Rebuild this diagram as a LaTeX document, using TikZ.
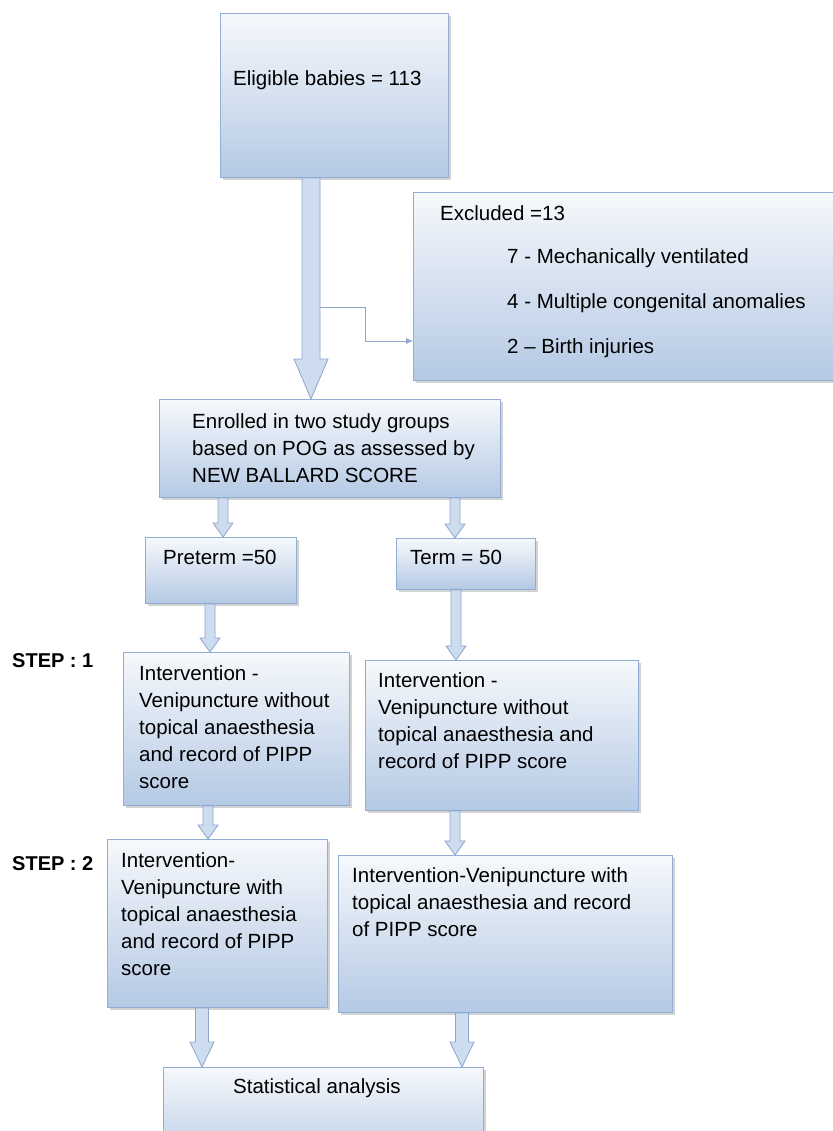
\documentclass[tikz,border=0pt]{standalone}
\usepackage{fontspec}
\setmainfont{Liberation Sans}
\usetikzlibrary{calc,shadows,arrows.meta}

\definecolor{boxline}{RGB}{146,174,212}
\definecolor{boxblue}{RGB}{180,201,228}
\definecolor{arrowfill}{RGB}{206,220,239}
\definecolor{arrowline}{RGB}{140,166,206}

\tikzset{
  box/.style={draw=boxline, line width=1pt, top color=boxblue!12, bottom color=boxblue,
    drop shadow={shadow xshift=2pt, shadow yshift=-2.5pt, opacity=0.35},
    anchor=north west, inner sep=0pt},
  txt/.style={anchor=north west, inner sep=0pt, align=left,
    font=\fontsize{20.5}{27}\selectfont},
  bigarrow/.style={draw=arrowline, fill=arrowfill, line width=0.8pt},
  thinarrow/.style={draw=arrowline, line width=0.8pt, -{Latex[length=7pt,width=6pt]}},
  steplabel/.style={anchor=west, inner sep=0pt, font=\fontsize{20}{24}\selectfont\bfseries}
}

% block arrow: x, from node, to node, shaft width, head width, head length
\newcommand{\blockarrow}[6]{%
  \coordinate (ba-x) at (#1,0);
  \path (#2.south -| ba-x) coordinate (ba-top) (#3.north -| ba-x) coordinate (ba-tip);
  \draw[bigarrow] ($(ba-top)+(-#4/2,0)$) -- ($(ba-tip)+(-#4/2,-#6)$)
    -- ($(ba-tip)+(-#5/2,-#6)$) -- (ba-tip) -- ($(ba-tip)+(#5/2,-#6)$)
    -- ($(ba-tip)+(#4/2,-#6)$) -- ($(ba-top)+(#4/2,0)$) -- cycle;
}

\begin{document}
\begin{tikzpicture}[x=1pt, y=-1pt]
  \useasboundingbox (0,0) rectangle (832,1131);
  \fill[white] (0,0) rectangle (832,1131);

  % boxes
  \node[box, minimum width=228pt, minimum height=164pt] (elig) at (220,13) {};
  \node[box, minimum width=430pt, minimum height=188pt] (excl) at (413,192) {};
  \node[box, minimum width=341pt, minimum height=98pt] (enrol) at (159,399) {};
  \node[box, minimum width=151pt, minimum height=66pt] (pre) at (145,537) {};
  \node[box, minimum width=139pt, minimum height=51pt] (term) at (396,538) {};
  \node[box, minimum width=226pt, minimum height=153pt] (preA) at (123,652) {};
  \node[box, minimum width=273pt, minimum height=150pt] (termA) at (365,660) {};
  \node[box, minimum width=220pt, minimum height=168pt] (preB) at (107,839) {};
  \node[box, minimum width=334pt, minimum height=157pt] (termB) at (338,855) {};
  \node[box, minimum width=320pt, minimum height=100pt] (stat) at (163,1067) {};

  % texts
  \node[txt] (eligtxt) at (233,70) {Eligible babies = 113};
  \node[txt] (excltxt) at (440,205) {Excluded =13};
  \node[txt] (excl1) at (507,248) {7 - Mechanically ventilated};
  \node[txt] (excl2) at (507,293) {4 - Multiple congenital anomalies};
  \node[txt] (excl3) at (507,338) {2 -- Birth injuries};
  \node[txt] (enroltxt) at (192,413) {Enrolled in two study groups\\based on POG as assessed by\\NEW BALLARD SCORE};
  \node[txt] (pretxt) at (163,550) {Preterm =50};
  \node[txt] (termtxt) at (410,550) {Term = 50};
  \node[txt] (preAtxt) at (139,665) {Intervention -\\Venipuncture without\\topical anaesthesia\\and record of PIPP\\score};
  \node[txt] (termAtxt) at (378,672) {Intervention -\\Venipuncture without\\topical anaesthesia and\\record of PIPP score};
  \node[txt] (preBtxt) at (121,852) {Intervention-\\Venipuncture with\\topical anaesthesia\\and record of PIPP\\score};
  \node[txt] (termBtxt) at (352,867) {Intervention-Venipuncture with\\topical anaesthesia and record\\of PIPP score};
  \node[txt] (stattxt) at (233,1078) {Statistical analysis};

  \node[steplabel] (step1) at (12,661) {STEP : 1};
  \node[steplabel] (step2) at (12,864) {STEP : 2};

  % arrows
  \blockarrow{311}{elig}{enrol}{18}{34}{40}
  \coordinate (brk) at (320,307);
  \draw[thinarrow] (brk) -- ++(45,0) |- ($(excl.south west)+(0,-40)$);
  \blockarrow{223}{enrol}{pre}{10}{20}{14}
  \blockarrow{455}{enrol}{term}{10}{20}{14}
  \blockarrow{210}{pre}{preA}{10}{20}{14}
  \blockarrow{456}{term}{termA}{10}{20}{14}
  \blockarrow{208}{preA}{preB}{10}{20}{14}
  \blockarrow{455}{termA}{termB}{10}{20}{14}
  \blockarrow{202}{preB}{stat}{13}{24}{25}
  \blockarrow{462}{termB}{stat}{13}{24}{25}
\end{tikzpicture}
\end{document}
